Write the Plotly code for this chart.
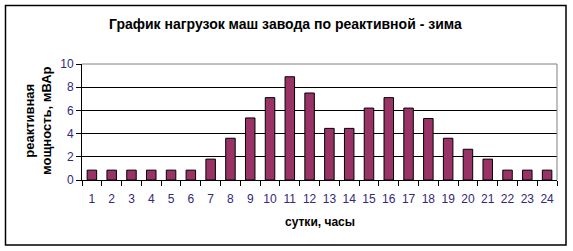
import plotly.graph_objects as go

hours = [str(i) for i in range(1, 25)]
reactive = [0.85, 0.85, 0.85, 0.85, 0.85, 0.85, 1.8, 3.6, 5.35, 7.1, 8.9, 7.5,
            4.45, 4.45, 6.2, 7.1, 6.2, 5.3, 3.6, 2.65, 1.8, 0.85, 0.85, 0.85]
y_ticks = [0, 2, 4, 6, 8, 10]

W, H = 573, 251
L, R, T, B = 82, 16, 64, 71
pw, ph = W - L - R, H - T - B

def px_x(p):
    return (p - L) / pw

def px_y(p):
    return (H - B - p) / ph

FONT = "Liberation Sans, Arial, sans-serif"
TICKC = "#33287a"

fig = go.Figure()
fig.add_trace(go.Bar(
    x=hours, y=reactive,
    marker=dict(color="#993366", line=dict(color="black", width=1)),
    width=0.48,
))

fig.update_layout(
    width=W, height=H,
    margin=dict(l=L, r=R, t=T, b=B, pad=0),
    paper_bgcolor="white", plot_bgcolor="white",
    showlegend=False,
    font=dict(family=FONT, size=12, color="black"),
    bargap=0.52,
    xaxis=dict(
        type="category", showgrid=False,
        showline=True, linecolor="black", linewidth=1,
        ticks="outside", tickson="boundaries", ticklen=5, tickcolor="black",
        tickfont=dict(family=FONT, size=12, color=TICKC),
        tickangle=0,
        ticklabelstandoff=8,
    ),
    yaxis=dict(
        range=[0, 10], tickvals=y_ticks,
        showgrid=True, gridcolor="black", gridwidth=1,
        showline=True, linecolor="black", linewidth=1,
        ticks="outside", ticklen=5, tickcolor="black",
        tickfont=dict(family=FONT, size=12, color=TICKC),
        zeroline=False,
    ),
    shapes=[
        dict(type="line", xref="paper", yref="paper", x0=0, x1=1, y0=1, y1=1,
             line=dict(color="#808080", width=1), layer="above"),
        dict(type="line", xref="paper", yref="paper", x0=1, x1=1, y0=0, y1=1,
             line=dict(color="#808080", width=1), layer="above"),
        dict(type="rect", xref="paper", yref="paper",
             x0=px_x(5.5), x1=px_x(566), y0=px_y(245), y1=px_y(5.5),
             line=dict(color="black", width=1.5), layer="above"),
    ],
    annotations=[
        dict(text="<b>График нагрузок маш завода по реактивной - зима</b>",
             xref="paper", yref="paper", x=px_x(285), y=px_y(24),
             showarrow=False, font=dict(family=FONT, size=14, color="black"),
             xanchor="center", yanchor="middle"),
        dict(text="<b>реактивная<br>мощность, мВАр</b>",
             xref="paper", yref="paper", x=px_x(38), y=px_y(121),
             showarrow=False, textangle=-90,
             font=dict(family=FONT, size=13, color="black"),
             xanchor="center", yanchor="middle"),
        dict(text="<b>сутки, часы</b>",
             xref="paper", yref="paper", x=px_x(320), y=px_y(222),
             showarrow=False, font=dict(family=FONT, size=12, color="black"),
             xanchor="center", yanchor="middle"),
    ],
)

fig.write_html("out.html")
